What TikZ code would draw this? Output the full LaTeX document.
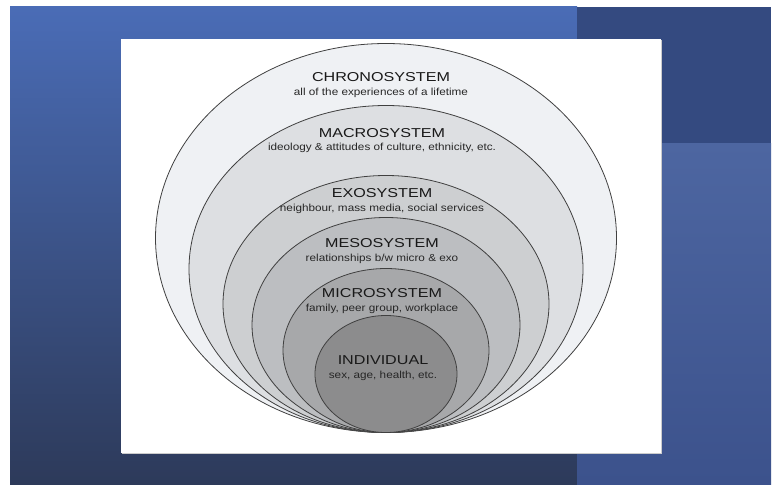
\documentclass[tikz,border=0pt]{standalone}
\usepackage{fontspec}
\setmainfont{Liberation Sans}
\newfontfamily\titlefont{Liberation Sans}[FakeStretch=1.25]
\newfontfamily\subfont{Liberation Sans}[FakeStretch=1.15]
\usetikzlibrary{shapes.geometric}
\definecolor{slidetop}{RGB}{74,108,182}
\definecolor{slidebot}{RGB}{45,58,90}
\definecolor{paneltop}{RGB}{52,74,128}
\definecolor{panelmid}{RGB}{77,102,161}
\definecolor{panelbot}{RGB}{60,82,140}
\definecolor{chronofill}{RGB}{239,241,244}
\definecolor{macrofill}{RGB}{221,223,226}
\definecolor{exofill}{RGB}{205,207,209}
\definecolor{mesofill}{RGB}{188,190,193}
\definecolor{microfill}{RGB}{167,168,170}
\definecolor{indivfill}{RGB}{140,140,141}
\begin{document}
\begin{tikzpicture}[x=1pt,y=-1pt,
  layer/.style={ellipse, draw=black!75, line width=0.8pt, inner sep=0pt, outer sep=0pt, anchor=south},
  sysname/.style={anchor=base, inner sep=0pt, text=black!90, font=\titlefont\fontsize{12.9}{14}\selectfont},
  sysnote/.style={anchor=base, inner sep=0pt, text=black!85, font=\subfont\fontsize{10.2}{12}\selectfont}]
\useasboundingbox (0,0) rectangle (778,484);
% slide background
\fill[white] (0,0) rectangle (778,484);
\shade[top color=slidetop, bottom color=slidebot] (10,7) rectangle (577,484);
\fill[paneltop] (577,7) rectangle (771,143);
\shade[top color=panelmid, bottom color=panelbot] (577,143) rectangle (771,484);
\fill[black!20] (122,40) rectangle (662,454);
\fill[white] (121,39) rectangle (661,453);
% nested systems, all touching at the bottom
\coordinate (base) at (386,432.5);
\node[layer, fill=chronofill, minimum width=461, minimum height=389] (chrono) at (base) {};
\node[layer, fill=macrofill, minimum width=394, minimum height=327] (macro) at (base) {};
\node[layer, fill=exofill, minimum width=326, minimum height=257] (exo) at (base) {};
\node[layer, fill=mesofill, minimum width=268, minimum height=215] (meso) at (base) {};
\node[layer, fill=microfill, minimum width=206, minimum height=164] (micro) at (base) {};
\node[layer, fill=indivfill, minimum width=142, minimum height=117] (indiv) at (base) {};
% labels
\node[sysname] (chrononame) at (381,81.7) {CHRONOSYSTEM};
\node[sysnote] (chrononote) at (381,95.7) {all of the experiences of a lifetime};
\node[sysname] (macroname) at (382,137) {MACROSYSTEM};
\node[sysnote] (macronote) at (382,150.5) {ideology \& attitudes of culture, ethnicity, etc.};
\node[sysname] (exoname) at (382,197) {EXOSYSTEM};
\node[sysnote] (exonote) at (382,211) {neighbour, mass media, social services};
\node[sysname] (mesoname) at (382,247) {MESOSYSTEM};
\node[sysnote] (mesonote) at (382,261.5) {relationships b/w micro \& exo};
\node[sysname] (microname) at (382,297) {MICROSYSTEM};
\node[sysnote] (micronote) at (382,311) {family, peer group, workplace};
\node[sysname] (indivname) at (383,364.5) {INDIVIDUAL};
\node[sysnote] (indivnote) at (383,378.5) {sex, age, health, etc.};
\end{tikzpicture}
\end{document}
